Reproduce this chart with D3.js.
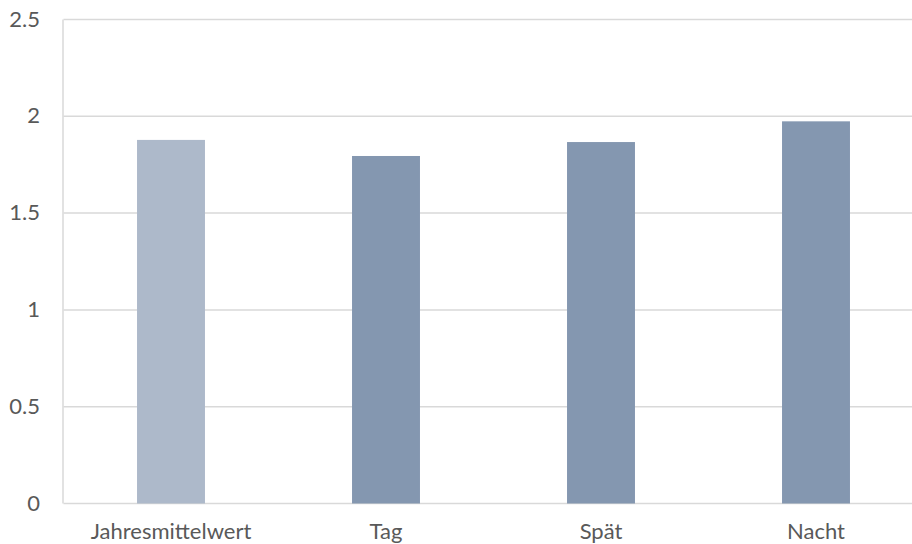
<!DOCTYPE html>
<html>
<head>
<meta charset="utf-8">
<script src="https://cdn.jsdelivr.net/npm/d3@7"></script>
<style>
  html, body { margin: 0; padding: 0; background: #ffffff; }
  svg { display: block; }
  text { font-family: Lato, "Open Sans", sans-serif; fill: #595959; }
</style>
</head>
<body>
<svg id="chart" width="912" height="544"></svg>
<script>
// Shift categories and their values
const categories = ["Jahresmittelwert", "Tag", "Spät", "Nacht"];
const values = [1.878, 1.795, 1.867, 1.974];
const barColors = ["#adb9ca", "#8497b0", "#8497b0", "#8497b0"];
const yTicks = [0, 0.5, 1, 1.5, 2, 2.5];

const svg = d3.select("#chart");
const W = 912, H = 544;
const plot = { left: 63.5, right: 923.5, top: 19.5, bottom: 503.5 };
const fontSize = 22;

const x = d3.scaleBand()
  .domain(categories)
  .range([plot.left, plot.right])
  .paddingInner(0.684)
  .paddingOuter(0.342);

const y = d3.scaleLinear()
  .domain([0, 2.5])
  .range([plot.bottom, plot.top]);

// horizontal gridlines
svg.append("g")
  .selectAll("line")
  .data(yTicks)
  .join("line")
  .attr("x1", plot.left)
  .attr("x2", W)
  .attr("y1", d => y(d))
  .attr("y2", d => y(d))
  .attr("stroke", "#d9d9d9")
  .attr("stroke-width", 1.5);

// vertical axis line
svg.append("line")
  .attr("x1", plot.left - 0.5)
  .attr("x2", plot.left - 0.5)
  .attr("y1", plot.top)
  .attr("y2", plot.bottom)
  .attr("stroke", "#d9d9d9")
  .attr("stroke-width", 1.5);

// bars
svg.append("g")
  .selectAll("rect")
  .data(categories)
  .join("rect")
  .attr("x", d => x(d))
  .attr("width", x.bandwidth())
  .attr("y", (d, i) => y(values[i]))
  .attr("height", (d, i) => y(0) - y(values[i]))
  .attr("fill", (d, i) => barColors[i]);

// y tick labels
const yAxis = d3.axisLeft(y).tickValues(yTicks).tickSize(0).tickPadding(0)
  .tickFormat(d => String(d));
const gy = svg.append("g")
  .attr("transform", `translate(40,0)`)
  .call(yAxis);
gy.select(".domain").remove();
gy.selectAll("text")
  .attr("font-size", fontSize)
  .attr("dy", "0.3em")
  .style("font-family", "Lato, 'Open Sans', sans-serif")
  .attr("fill", "#595959");

// category labels
const xAxis = d3.axisBottom(x).tickSize(0).tickPadding(0);
const gx = svg.append("g")
  .attr("transform", `translate(0,538.5)`)
  .call(xAxis);
gx.select(".domain").remove();
gx.selectAll("text")
  .attr("y", 0)
  .attr("dy", 0)
  .attr("font-size", fontSize)
  .style("font-family", "Lato, 'Open Sans', sans-serif")
  .attr("fill", "#595959");
</script>
</body>
</html>
